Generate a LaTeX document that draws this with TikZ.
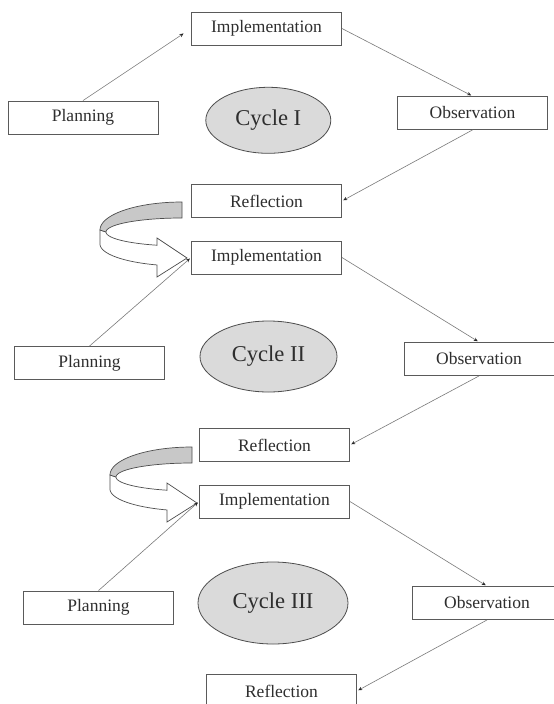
\documentclass[tikz,border=0pt]{standalone}
\usepackage{fontspec}
\setmainfont{Liberation Serif}
\usetikzlibrary{arrows.meta,shapes.geometric}
\definecolor{boxgray}{HTML}{5A5A5A}
\definecolor{textgray}{HTML}{2E2E2E}
\definecolor{linegray}{HTML}{7A7A7A}
\definecolor{ellgray}{HTML}{4D4D4D}
\definecolor{ellfill}{HTML}{DADADA}
\definecolor{bandgray}{HTML}{C8C8C8}
\begin{document}
\begin{tikzpicture}[x=1pt,y=-1pt,
  box/.style={draw=boxgray, line width=0.9pt, minimum width=150pt, minimum height=33pt,
    inner sep=0pt, fill=white, text=textgray, font=\fontsize{17.5}{20}\selectfont},
  cyc/.style={ellipse, draw=ellgray, line width=0.8pt, fill=ellfill, text=textgray,
    font=\fontsize{22.6}{26}\selectfont, inner sep=0pt},
  conn/.style={draw=linegray, line width=0.6pt,
    -{Stealth[length=4pt,width=3.5pt,color=black!85]}, shorten >=1.5pt},
  curvarrow/.pic={
    \filldraw[fill=white, draw=ellgray, line width=0.7pt]
      (100,230) -- (100,244)
      -- plot[domain=180:107.8, samples=30] ({182+82*cos(\x)},{244+22*sin(\x)})
      -- (157,277) -- (187,258) -- (157,238) -- (157,245.2)
      -- plot[domain=109.2:180, samples=30] ({182+76*cos(\x)},{232+14*sin(\x)})
      -- cycle;
    \filldraw[fill=bandgray, draw=ellgray, line width=0.7pt]
      plot[domain=270:180, samples=30] ({182+82*cos(\x)},{230+28*sin(\x)})
      -- plot[domain=180:270, samples=30] ({182+76*cos(\x)},{232+14*sin(\x)})
      -- cycle;
  }]
\clip (0,0) rectangle (554,704);
\fill[white] (0,0) rectangle (554,704);

% Cycle I
\node[box] (impl1) at (266.5,28.5) {Implementation};
\node[box] (plan1) at (83,117.5) {Planning};
\node[box] (obs1) at (472.5,113) {Observation};
\node[box] (refl1) at (266.5,201) {Reflection};
\node[cyc, minimum width=125pt, minimum height=66pt] (cyc1) at (268.3,120.3) {Cycle I};

% Cycle II
\node[box] (impl2) at (266.5,257.5) {Implementation};
\node[box] (plan2) at (89.5,363) {Planning};
\node[box] (obs2) at (479,359) {Observation};
\node[box] (refl2) at (274.5,445) {Reflection};
\node[cyc, minimum width=137pt, minimum height=71pt] (cyc2) at (268.5,356.5) {Cycle II};

% Cycle III
\node[box] (impl3) at (274.5,501.5) {Implementation};
\node[box] (plan3) at (98.5,607.5) {Planning};
\node[box] (obs3) at (487,603) {Observation};
\node[box] (refl3) at (281.5,691) {Reflection};
\node[cyc, minimum width=150pt, minimum height=82pt] (cyc3) at (273,603) {Cycle III};

% curved arrows
\pic at (0,0) {curvarrow};
\pic at (10,245) {curvarrow};

% connectors
\draw[conn, shorten >=9pt] (plan1.north) -- (impl1.west);
\draw[conn] (impl1.east) -- (obs1.north);
\draw[conn] (obs1.south) -- (refl1.east);
\draw[conn] (plan2.north) -- (impl2.west);
\draw[conn] (impl2.east) -- (obs2.north);
\draw[conn] (obs2.south) -- (refl2.east);
\draw[conn] (plan3.north) -- (impl3.west);
\draw[conn] (impl3.east) -- (obs3.north);
\draw[conn] (obs3.south) -- (refl3.east);
\end{tikzpicture}
\end{document}
